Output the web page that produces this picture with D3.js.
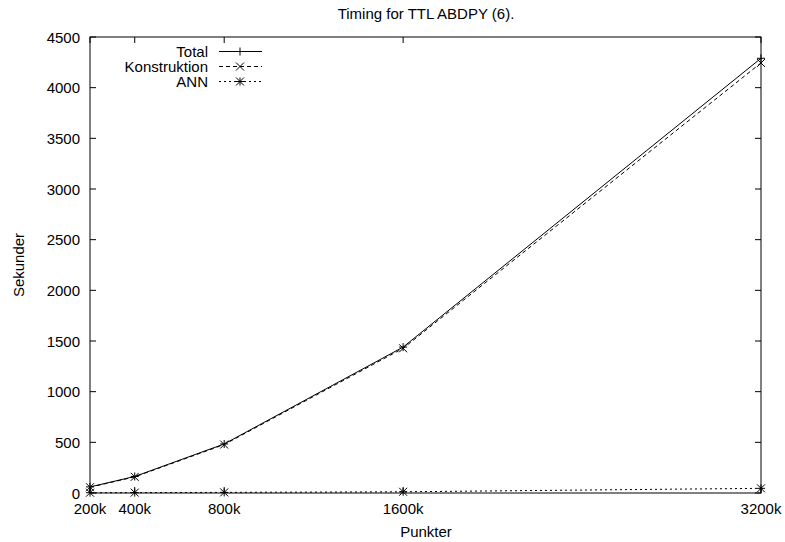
<!DOCTYPE html>
<html><head><meta charset="utf-8">
<script src="https://cdn.jsdelivr.net/npm/d3@7"></script>
<style>body{margin:0;background:#fff}svg{display:block}text{font-family:"Liberation Sans",Arial,sans-serif;font-size:15px;fill:#000}</style>
</head><body>
<script>
const xValues = [200, 400, 800, 1600, 3200];
const xTickLabels = ["200k", "400k", "800k", "1600k", "3200k"];
const yTicks = [0, 500, 1000, 1500, 2000, 2500, 3000, 3500, 4000, 4500];
const totalValues = [60, 163, 484, 1440, 4290];
const konstruktionValues = [57, 159, 478, 1428, 4244];
const annValues = [3, 4, 6, 12, 46];
const seriesNames = ["Total", "Konstruktion", "ANN"];

const W = 785, H = 542;
const m = {left: 90, right: 24, top: 37, bottom: 49};
const svg = d3.select("body").append("svg").attr("width", W).attr("height", H);
const x = d3.scaleLinear().domain([200, 3200]).range([m.left, W - m.right]);
const y = d3.scaleLinear().domain([0, 4500]).range([H - m.bottom, m.top]);

// frame
svg.append("rect").attr("x", x(200)).attr("y", y(4500)).attr("width", x(3200) - x(200)).attr("height", y(0) - y(4500))
  .attr("fill", "none").attr("stroke", "#000").attr("stroke-width", 1);

const tl = 6;
// y ticks
yTicks.forEach(v => {
  svg.append("line").attr("x1", x(200)).attr("x2", x(200) + tl).attr("y1", y(v)).attr("y2", y(v)).attr("stroke", "#000");
  svg.append("line").attr("x1", x(3200)).attr("x2", x(3200) - tl).attr("y1", y(v)).attr("y2", y(v)).attr("stroke", "#000");
  svg.append("text").attr("x", x(200) - 10).attr("y", y(v) + 5.5).attr("text-anchor", "end").text(v);
});
// x ticks
xValues.forEach((v, i) => {
  svg.append("line").attr("x1", x(v)).attr("x2", x(v)).attr("y1", y(0)).attr("y2", y(0) - tl).attr("stroke", "#000");
  svg.append("line").attr("x1", x(v)).attr("x2", x(v)).attr("y1", y(4500)).attr("y2", y(4500) + tl).attr("stroke", "#000");
  svg.append("text").attr("x", x(v)).attr("y", y(0) + 21).attr("text-anchor", "middle").text(xTickLabels[i]);
});

svg.append("text").attr("x", 426).attr("y", 19).attr("text-anchor", "middle").text("Timing for TTL ABDPY (6).");
svg.append("text").attr("x", 426).attr("y", 537).attr("text-anchor", "middle").text("Punkter");
svg.append("text").attr("transform", "translate(24,265) rotate(-90)").attr("text-anchor", "middle").text("Sekunder");

const dashes = [null, "4,3", "2,3"];
const markerTypes = ["plus", "cross", "star"];
const allSeries = [totalValues, konstruktionValues, annValues];
const ms = 4;
function marker(g, px, py, type) {
  const p = [];
  if (type === "plus" || type === "star") { p.push([px - ms, py, px + ms, py], [px, py - ms, px, py + ms]); }
  if (type === "cross" || type === "star") { p.push([px - ms, py - ms, px + ms, py + ms], [px - ms, py + ms, px + ms, py - ms]); }
  p.forEach(s => g.append("line").attr("x1", s[0]).attr("y1", s[1]).attr("x2", s[2]).attr("y2", s[3]).attr("stroke", "#000").attr("stroke-width", 1));
}
const line = d3.line().x((d, i) => x(xValues[i])).y(d => y(d));
allSeries.forEach((vals, si) => {
  const g = svg.append("g");
  g.append("path").attr("d", line(vals)).attr("fill", "none").attr("stroke", "#000").attr("stroke-width", 1)
    .attr("stroke-dasharray", dashes[si]);
  vals.forEach((v, i) => marker(g, x(xValues[i]), y(v), markerTypes[si]));
  // legend
  const ly = 51.5 + si * 15;
  g.append("text").attr("x", 208).attr("y", ly + 5).attr("text-anchor", "end").text(seriesNames[si]);
  g.append("line").attr("x1", 219).attr("x2", 262).attr("y1", ly).attr("y2", ly).attr("stroke", "#000").attr("stroke-dasharray", dashes[si]);
  marker(g, 240, ly, markerTypes[si]);
});
</script>
</body></html>
